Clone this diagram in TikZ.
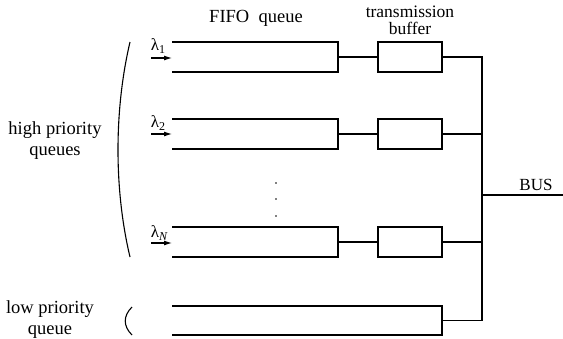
\documentclass[tikz,border=0pt]{standalone}
\usepackage{fontspec}
\setmainfont{Liberation Serif}
\usetikzlibrary{arrows.meta}
\newcommand{\lam}[1]{λ\raisebox{-3.5pt}{\fontsize{12}{12}\selectfont #1}}
\begin{document}
\begin{tikzpicture}[x=1pt,y=-1pt,line width=1.1pt,
  lbl/.style={font=\fontsize{18.5}{21}\selectfont,inner sep=0pt,align=center},
  lam/.style={font=\fontsize{17}{19}\selectfont,inner sep=0pt},
  qbox/.style={minimum width=166pt,minimum height=30pt,inner sep=0pt,outer sep=0pt},
  lowbox/.style={minimum width=270pt,minimum height=29pt,inner sep=0pt,outer sep=0pt},
  bbox/.style={minimum width=64pt,minimum height=30pt,inner sep=0pt,outer sep=0pt},
  arr/.style={-{Latex[length=8pt,width=5pt]},line width=1.1pt},
  dot/.style={circle,fill,inner sep=0pt,minimum size=1.8pt}]
\useasboundingbox (0,0) rectangle (563,338);
% titles
\node[lbl] (fifo) at (256,18) {FIFO\ \ queue};
\node[lbl,font=\fontsize{17.5}{17}\selectfont] (tb) at (410,20) {transmission\\buffer};
% queues
\node[qbox] (q1) at (255,57) {};
\node[qbox] (q2) at (255,134) {};
\node[qbox] (qn) at (255,242) {};
\node[lowbox] (ql) at (307,320.5) {};
\foreach \q in {q1,q2,qn,ql}{
  \draw (\q.north west) -- (\q.north east) -- (\q.south east) -- (\q.south west);
}
% buffers
\node[bbox] (b1) at (410,57) {};
\node[bbox] (b2) at (410,134) {};
\node[bbox] (bn) at (410,242) {};
\foreach \b in {b1,b2,bn}{
  \draw (\b.north west) rectangle (\b.south east);
}
% bus
\coordinate (bt) at (482,57);
\coordinate (bb) at (482,320.5);
\coordinate (bj) at (482,195);
\coordinate (be) at (563,195);
\draw (q1.east) -- (b1.west);
\draw (q2.east) -- (b2.west);
\draw (qn.east) -- (bn.west);
\draw (b1.east) -- (bt) -- (bb) -- (ql.east);
\draw (b2.east) -- (b2.east -| bt);
\draw (bn.east) -- (bn.east -| bt);
\draw (bj) -- (be);
\node[lbl,font=\fontsize{17}{19}\selectfont] (bus) at (536,185) {BUS};
% dots
\node[dot] (d1) at (276,183) {};
\node[dot] (d2) at (276,199) {};
\node[dot] (d3) at (276,216) {};
% arrivals
\node[lam] (l1) at (158,46) {\lam{1}};
\node[lam] (l2) at (158,123) {\lam{2}};
\node[lam] (ln) at (159,233) {\lam{\itshape N}};
\coordinate (a1) at (151,58);
\coordinate (a2) at (151,134);
\coordinate (an) at (151,243);
\draw[arr] (a1) -- (a1 -| q1.west);
\draw[arr] (a2) -- (a2 -| q2.west);
\draw[arr] (an) -- (an -| qn.west);
% brackets
\coordinate (h1) at (130,42);
\coordinate (h2) at (130,257);
\draw (h1) .. controls (114,110) and (114,190) .. (h2);
\coordinate (k1) at (132,307);
\coordinate (k2) at (132,335);
\draw (k1) .. controls (123,316) and (123,326) .. (k2);
% side labels
\node[lbl] (hp) at (55,141) {high priority\\queues};
\node[lbl] (lp) at (50,320) {low priority\\queue};
\end{tikzpicture}
\end{document}
